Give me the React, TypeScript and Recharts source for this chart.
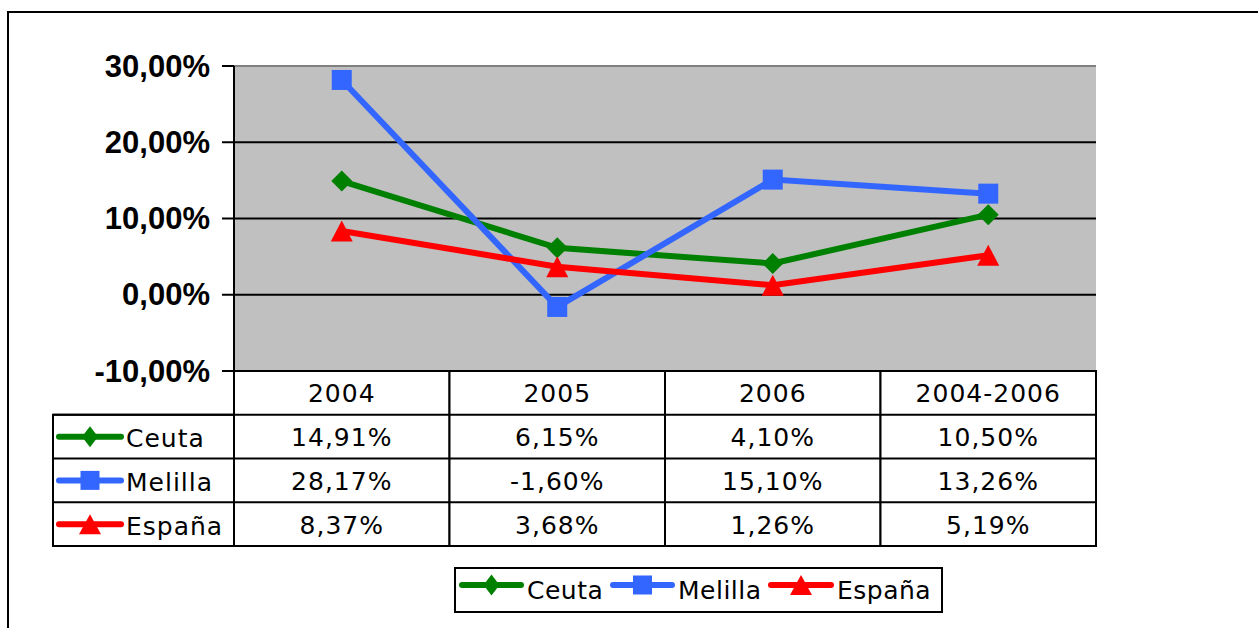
import React from 'react';
import { LineChart, Line, XAxis, YAxis, CartesianGrid, ReferenceLine } from 'recharts';

const categories = ['2004', '2005', '2006', '2004-2006'];
const ceuta = [14.91, 6.15, 4.10, 10.50];
const melilla = [28.17, -1.60, 15.10, 13.26];
const espana = [8.37, 3.68, 1.26, 5.19];
const yTicks = [-10, 0, 10, 20, 30];

const series = [
  { key: 'ceuta', name: 'Ceuta', values: ceuta, color: '#008000', shape: 'diamond' },
  { key: 'melilla', name: 'Melilla', values: melilla, color: '#3366FF', shape: 'square' },
  { key: 'espana', name: 'España', values: espana, color: '#FF0000', shape: 'triangle' },
];

const data = categories.map((cat, i) => ({
  cat,
  ceuta: ceuta[i],
  melilla: melilla[i],
  espana: espana[i],
}));

const W = 1258;
const H = 628;
const PLOT_LEFT = 234;
const PLOT_RIGHT = 1096;
const PLOT_TOP = 66;
const ROW_H = 43.75;
const COL_W = (PLOT_RIGHT - PLOT_LEFT) / categories.length;
const TABLE_LEFT = 53;
const TABLE_FONT = '"DejaVu Sans", Verdana, sans-serif';
const TABLE_FS = 25;
const TABLE_LS = 1;

const fmtPct = (v: number) => v.toFixed(2).replace('.', ',') + '%';

function Marker({ shape, cx, cy, color, w, h }: any) {
  if (shape === 'diamond') {
    return (
      <polygon
        points={`${cx},${cy - h / 2} ${cx + w / 2},${cy} ${cx},${cy + h / 2} ${cx - w / 2},${cy}`}
        fill={color}
      />
    );
  }
  if (shape === 'square') {
    return <rect x={cx - w / 2} y={cy - h / 2} width={w} height={h} fill={color} />;
  }
  return (
    <polygon
      points={`${cx},${cy - h / 2} ${cx + w / 2},${cy + h / 2} ${cx - w / 2},${cy + h / 2}`}
      fill={color}
    />
  );
}

function LegendIcon({ s, x1, x2, cy }: any) {
  const cx = (x1 + x2) / 2;
  const sz = s.shape === 'diamond' ? [16, 21] : s.shape === 'square' ? [19, 19] : [22, 20];
  return (
    <g>
      <line x1={x1} y1={cy} x2={x2} y2={cy} stroke={s.color} strokeWidth={6} strokeLinecap="round" />
      <Marker shape={s.shape} cx={cx} cy={cy} color={s.color} w={sz[0]} h={sz[1]} />
    </g>
  );
}

function YTick(props: any) {
  const { x, y, payload } = props;
  return (
    <text
      x={x}
      y={y}
      textAnchor="end"
      dominantBaseline="central"
      fontFamily='"Liberation Sans", Arial, sans-serif'
      fontWeight="bold"
      fontSize={31}
      fill="#000"
    >
      {fmtPct(payload.value)}
    </text>
  );
}

function TableTick(props: any) {
  const { x, y, payload } = props;
  const idx = categories.indexOf(payload.value);
  const left = x - COL_W / 2;
  const textProps = {
    fontFamily: TABLE_FONT,
    fontSize: TABLE_FS,
    letterSpacing: TABLE_LS,
    fill: '#000',
    dominantBaseline: 'central' as any,
  };
  return (
    <g>
      {idx === 0 && (
        <g>
          <rect
            x={TABLE_LEFT}
            y={y + ROW_H}
            width={left - TABLE_LEFT}
            height={ROW_H * series.length}
            fill="#fff"
            stroke="#000"
            strokeWidth={2}
          />
          {series.map((s, r) => {
            const cy = y + ROW_H * (r + 1.5);
            return (
              <g key={s.key}>
                <line x1={TABLE_LEFT} y1={y + ROW_H * (r + 1)} x2={left} y2={y + ROW_H * (r + 1)} stroke="#000" strokeWidth={2} />
                <LegendIcon s={s} x1={59} x2={121} cy={cy} />
                <text x={126} y={cy + 2} textAnchor="start" {...textProps}>
                  {s.name}
                </text>
              </g>
            );
          })}
        </g>
      )}
      <rect x={left} y={y} width={COL_W} height={ROW_H * (series.length + 1)} fill="#fff" stroke="#000" strokeWidth={2} />
      {series.map((s, r) => (
        <line key={s.key} x1={left} y1={y + ROW_H * (r + 1)} x2={left + COL_W} y2={y + ROW_H * (r + 1)} stroke="#000" strokeWidth={2} />
      ))}
      <text x={x} y={y + ROW_H * 0.5 + 1} textAnchor="middle" {...textProps}>
        {payload.value}
      </text>
      {series.map((s, r) => (
        <text key={s.key} x={x} y={y + ROW_H * (r + 1.5) + 1} textAnchor="middle" {...textProps}>
          {fmtPct(s.values[idx])}
        </text>
      ))}
    </g>
  );
}

const makeDot = (s: any) => (p: any) => {
  const { cx, cy, index } = p;
  if (cx == null || cy == null) return <g key={index} />;
  const sz = s.shape === 'diamond' ? [21, 21] : s.shape === 'square' ? [20, 20] : [22, 21];
  return (
    <g key={`${s.key}-${index}`}>
      <Marker shape={s.shape} cx={cx} cy={cy} color={s.color} w={sz[0]} h={sz[1]} />
    </g>
  );
};

export default function App() {
  const legendItems = [
    { s: series[0], x1: 462, x2: 521, tx: 527 },
    { s: series[1], x1: 613, x2: 672, tx: 678 },
    { s: series[2], x1: 771, x2: 831, tx: 837 },
  ];
  return (
    <div style={{ position: 'absolute', left: 0, top: 0, width: W, height: H, overflow: 'hidden', background: '#fff' }}>
      <div
        style={{
          position: 'absolute',
          left: 7,
          top: 11,
          width: 1300,
          height: 700,
          border: '2px solid #000',
        }}
      />
      <div style={{ position: 'absolute', left: 0, top: 0 }}>
        <LineChart width={W} height={H} data={data} margin={{ top: PLOT_TOP, right: W - PLOT_RIGHT, bottom: 82, left: 0 }}>
          <CartesianGrid
            yAxisId="left"
            vertical={false}
            stroke="#000"
            strokeWidth={2}
            fill="#C0C0C0"
            fillOpacity={1}
          />
          <XAxis
            dataKey="cat"
            padding={{ left: COL_W / 2, right: COL_W / 2 }}
            tick={(p: any) => <TableTick {...p} />}
            tickLine={false}
            axisLine={false}
            tickSize={0}
            tickMargin={0}
            height={175}
            interval={0}
          />
          <YAxis
            yAxisId="left"
            width={PLOT_LEFT}
            domain={[-10, 30]}
            ticks={yTicks}
            interval={0}
            tickSize={12}
            tickMargin={12}
            tickLine={{ stroke: '#000', strokeWidth: 2 }}
            axisLine={{ stroke: '#000', strokeWidth: 2 }}
            tick={(p: any) => <YTick {...p} />}
          />
          <YAxis
            yAxisId="right"
            orientation="right"
            width={0}
            domain={[-10, 30]}
            ticks={yTicks}
            tick={false}
            tickLine={false}
            axisLine={{ stroke: '#808080', strokeWidth: 2 }}
          />
          <ReferenceLine yAxisId="left" y={30} stroke="#808080" strokeWidth={2} />
          {series.map((s) => (
            <Line
              key={s.key}
              yAxisId="left"
              type="linear"
              dataKey={s.key}
              name={s.name}
              stroke={s.color}
              strokeWidth={6}
              dot={makeDot(s)}
              activeDot={false}
              isAnimationActive={false}
            />
          ))}
        </LineChart>
      </div>
      <svg style={{ position: 'absolute', left: 0, top: 0 }} width={W} height={H} pointerEvents="none">
        <rect x={455} y={568} width={487} height={44} fill="#fff" stroke="#000" strokeWidth={2} />
        {legendItems.map((it) => (
          <g key={it.s.key}>
            <LegendIcon s={it.s} x1={it.x1} x2={it.x2} cy={585} />
            <text
              x={it.tx}
              y={590}
              textAnchor="start"
              dominantBaseline="central"
              fontFamily={TABLE_FONT}
              fontSize={TABLE_FS}
              letterSpacing={0.5}
              fill="#000"
            >
              {it.s.name}
            </text>
          </g>
        ))}
      </svg>
    </div>
  );
}
